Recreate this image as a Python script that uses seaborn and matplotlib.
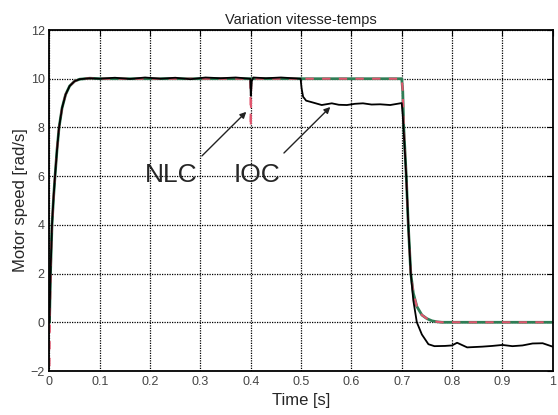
import numpy as np
import pandas as pd
import matplotlib
matplotlib.use("Agg")
import matplotlib.pyplot as plt
import seaborn as sns

sns.set_style("white")
plt.rcParams['font.family'] = ['Liberation Sans', 'DejaVu Sans']

# start-up transient (shared by all three curves)
t_rise = [0.0, 0.002, 0.005, 0.008, 0.011, 0.015, 0.019, 0.025, 0.032, 0.04, 0.05, 0.06, 0.07, 0.08]
v_rise = [0.0, 2.0, 4.0, 5.1, 6.0, 7.1, 8.0, 8.8, 9.35, 9.7, 9.9, 9.98, 10.0, 10.02]

# speed reversal at t=0.7 (NLC / reference)
t_drop = [0.7, 0.702, 0.704, 0.709, 0.713, 0.718, 0.723, 0.73, 0.74, 0.75, 0.76, 0.77, 0.78, 0.8, 1.0]
v_drop = [10.0, 9.5, 8.0, 6.0, 4.0, 2.0, 1.2, 0.65, 0.3, 0.15, 0.06, 0.02, 0.0, 0.0, 0.0]

# NLC (green)
t_nlc = t_rise + [0.1, 0.4, 0.5, 0.6] + t_drop
v_nlc = v_rise + [10.0, 10.0, 10.0, 10.0] + v_drop

# red dashed trace
t_red = [0.0, 0.001, 0.004] + t_rise[3:] + [0.1, 0.399, 0.4, 0.401, 0.5, 0.6] + t_drop
v_red = [-1.8, 0.5, 3.5] + v_rise[3:] + [10.0, 10.0, 8.0, 10.0, 10.0, 10.0] + v_drop

# IOC (black)
t_ioc = t_rise + [0.1, 0.13, 0.16, 0.19, 0.22, 0.25, 0.28, 0.31, 0.34, 0.37, 0.399, 0.4, 0.402,
                  0.405, 0.43, 0.46, 0.499, 0.501, 0.504, 0.51, 0.524, 0.541, 0.561, 0.575,
                  0.591, 0.607, 0.623, 0.64, 0.657, 0.677, 0.697, 0.7, 0.702, 0.704, 0.709,
                  0.713, 0.718, 0.723, 0.73, 0.74, 0.753, 0.765, 0.786, 0.8, 0.81, 0.83,
                  0.86, 0.88, 0.9, 0.92, 0.94, 0.96, 0.98, 1.0]
v_ioc = v_rise + [10.0, 10.04, 9.99, 10.05, 10.0, 10.04, 9.98, 10.05, 10.02, 10.05, 10.0, 9.3, 9.9,
                  10.05, 10.02, 10.05, 10.0, 9.6, 9.26, 9.1, 9.02, 8.92, 8.99, 8.93,
                  8.92, 8.97, 8.99, 8.94, 8.95, 8.92, 8.99, 9.0, 8.5, 7.8, 6.0,
                  4.0, 2.0, 0.9, 0.0, -0.5, -0.9, -0.98, -0.97, -0.95, -0.84, -1.03,
                  -1.0, -0.97, -0.93, -0.98, -0.95, -0.87, -0.86, -1.0]

df = pd.concat([
    pd.DataFrame({'t': t_nlc, 'w': v_nlc, 's': 'NLC'}),
    pd.DataFrame({'t': t_red, 'w': v_red, 's': 'ref'}),
    pd.DataFrame({'t': t_ioc, 'w': v_ioc, 's': 'IOC'}),
])

fig = plt.figure(figsize=(5.58, 4.15), dpi=100)
ax = fig.add_axes([0.0887, 0.106, 0.9018, 0.8217])

sns.lineplot(data=df[df.s == 'NLC'], x='t', y='w', color='#2f7d55', lw=2.0, ax=ax, sort=False)
sns.lineplot(data=df[df.s == 'ref'], x='t', y='w', color='#e0566e', lw=1.5, ax=ax, sort=False,
             linestyle=(0, (4, 4)))
sns.lineplot(data=df[df.s == 'IOC'], x='t', y='w', color='black', lw=1.3, ax=ax, sort=False)

ax.set_xlim(0, 1)
ax.set_ylim(-2, 12)
ax.set_xticks(np.arange(0, 1.01, 0.1))
ax.set_xticklabels(['0', '0.1', '0.2', '0.3', '0.4', '0.5', '0.6', '0.7', '0.8', '0.9', '1'])
ax.set_yticks(range(-2, 13, 2))
ax.tick_params(direction='in', top=True, right=True, length=4, labelsize=9,
               labelcolor='#444444', color='black')
ax.grid(True, color='black', linestyle=(0, (1, 1)), linewidth=0.9)
for sp in ax.spines.values():
    sp.set_color('black')
    sp.set_linewidth(1.3)

ax.set_title('Variation vitesse-temps', fontsize=10.5, pad=4, color='#222222')
ax.set_xlabel('Time [s]', fontsize=12, labelpad=4)
ax.set_ylabel('Motor speed [rad/s]', fontsize=12, labelpad=2)

ax.annotate('', xy=(0.395, 8.72), xytext=(0.299, 6.75),
            arrowprops=dict(arrowstyle='-|>', color='#222222', lw=1.0, mutation_scale=9))
ax.annotate('', xy=(0.562, 8.92), xytext=(0.462, 6.87),
            arrowprops=dict(arrowstyle='-|>', color='#222222', lw=1.0, mutation_scale=9))
ax.text(0.242, 6.05, 'NLC', fontsize=19, ha='center', va='center')
ax.text(0.413, 6.05, 'IOC', fontsize=19, ha='center', va='center')

fig.savefig('out.png', dpi=100)
